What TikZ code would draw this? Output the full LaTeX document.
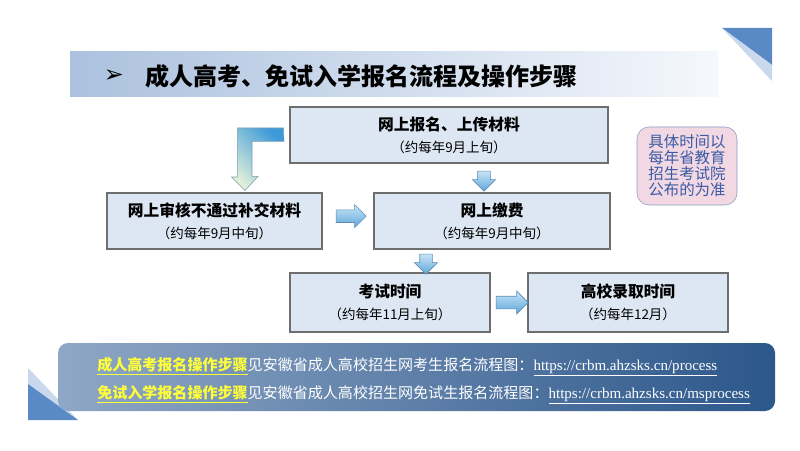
\documentclass[tikz,border=0pt]{standalone}
\usepackage{fontspec}
\setmainfont{Noto Sans CJK SC}
\newfontfamily\urlfont{Liberation Serif}
\newfontfamily\symfont{DejaVu Sans}
\usetikzlibrary{shapes.arrows,calc}
\definecolor{boxfill}{HTML}{DDE7F3}
\definecolor{boxline}{HTML}{6E6E6E}
\definecolor{bandleft}{HTML}{ABC1DE}
\definecolor{bandright}{HTML}{F5F8FC}
\definecolor{tridark}{HTML}{5A8AC6}
\definecolor{trilight}{HTML}{C9D8EC}
\definecolor{bannerleft}{HTML}{8FA7C6}
\definecolor{bannerright}{HTML}{2C578A}
\definecolor{notefill}{HTML}{F2D8E3}
\definecolor{noteline}{HTML}{8A9CC0}
\definecolor{notetext}{HTML}{3A5BA5}
\definecolor{hiyellow}{HTML}{FFFF3A}
\definecolor{arrowline}{HTML}{5B8DB8}
\definecolor{arrowlight}{HTML}{C8E4F6}
\definecolor{arrowdark}{HTML}{5DA7DA}
\definecolor{bentblue}{HTML}{3F9BD8}
\definecolor{bentgreen}{HTML}{E2F0D9}
\definecolor{bentline}{HTML}{7F9DB0}
\newcommand\subsize{\fontsize{9.6}{15}\selectfont}

\begin{document}
\begin{tikzpicture}[
    box/.style={rectangle,draw=boxline,fill=boxfill,line width=0.8pt,align=center,inner sep=0pt,font=\fontsize{11.2}{15.5}\selectfont},
    barrow/.style={single arrow,draw=arrowline,top color=arrowlight,bottom color=arrowdark,thin,inner sep=0.15cm,minimum width=0.56cm,single arrow head extend=0.13cm},
    line/.style={anchor=west,inner sep=0pt,text=white,font=\fontsize{10.7}{13}\selectfont},
    ]
    \useasboundingbox (0,0) rectangle (20,11.25);
    \fill[white] (0,0) rectangle (20,11.25);
    % title band and corner triangles
    \shade[left color=bandleft,right color=bandright] (1.75,8.825) rectangle (17.95,9.95);
    \fill[tridark] (18.05,10.55) -- (19.3,10.55) -- (19.3,9.625) -- cycle;
    \fill[trilight] (18.05,10.55) -- (19.3,9.625) -- (19.3,9.225) -- cycle;
    \fill[trilight] (0.7,2.05) -- (1.95,0.75) -- (0.7,1.65) -- cycle;
    \fill[tridark] (0.7,1.65) -- (1.95,0.75) -- (0.7,0.75) -- cycle;
    \node[inner sep=0pt] (mark) at (2.85,9.35) {\symfont\fontsize{17}{17}\selectfont ➢};
    \node[anchor=west,inner sep=0pt,font=\fontsize{17.1}{20}\selectfont\bfseries] (title) at (3.625,9.35) {成人高考、免试入学报名流程及操作步骤};
    % steps
    \node[box,minimum width=7.95cm,minimum height=1.4cm] (reg) at (11.225,7.875) {\textbf{网上报名、上传材料}\\{\subsize（约每年9月上旬）}};
    \node[box,minimum width=5.375cm,minimum height=1.4cm] (fix) at (5.3625,5.725) {\textbf{网上审核不通过补交材料}\\{\subsize（约每年9月中旬）}};
    \node[box,minimum width=5.9cm,minimum height=1.4cm] (pay) at (12.3,5.725) {\textbf{网上缴费}\\{\subsize（约每年9月中旬）}};
    \node[box,minimum width=5cm,minimum height=1.475cm] (exam) at (9.75,3.6875) {\textbf{考试时间}\\{\subsize（约每年11月上旬）}};
    \node[box,minimum width=5cm,minimum height=1.475cm] (admit) at (15.7,3.6875) {\textbf{高校录取时间}\\{\subsize（约每年12月）}};
    \node[rectangle,rounded corners=0.3cm,draw=noteline,fill=notefill,thin,minimum width=2.5cm,minimum height=1.95cm,align=center,inner sep=0pt,text=notetext,font=\fontsize{11}{11.4}\selectfont] (note) at (17.175,7.1) {具体时间以\\每年省教育\\招生考试院\\公布的为准};
    % arrows
    \coordinate (bendtip) at ($(fix.north)+(0.7625,0.05)$);
    \draw[bentline,thin,top color=bentblue,bottom color=bentgreen,shading angle=-45]
        ($(reg.west)+(-0.15,0.175)$) -- ++(-1.15,0) -- ++(0,-1.225) -- ++(-0.15,0)
        -- (bendtip) -- ++(0.325,0.35) -- ++(-0.15,0) -- ++(0,0.875) -- ++(0.8,0) -- cycle;
    \node[barrow,minimum height=0.5cm,shape border rotate=270] (a1) at ($(pay.north)!.5!(pay.north|-reg.south)+(-0.2,0)$) {};
    \node[barrow,minimum height=0.75cm] (a2) at ($(fix.east)!.5!(pay.west)+(0,0.12)$) {};
    \node[barrow,minimum height=0.5cm,shape border rotate=270] (a3) at ($(exam.north)!.5!(exam.north|-pay.south)+(0.9,0)$) {};
    \node[barrow,minimum height=0.8cm] (a4) at ($(exam.east)!.5!(admit.west)$) {};
    % bottom banner
    \shade[rounded corners=0.25cm,left color=bannerleft,right color=bannerright] (1.45,0.975) rectangle (19.375,2.675);
    \node[line] (line1) at (2.425,2.075) {\textcolor{hiyellow}{\bfseries\underline{成人高考报名操作步骤}}见安徽省成人高校招生网考生报名流程图：\underline{\urlfont https://crbm.ahzsks.cn/process}};
    \node[line] (line2) at (2.425,1.375) {\textcolor{hiyellow}{\bfseries\underline{免试入学报名操作步骤}}见安徽省成人高校招生网免试生报名流程图：\underline{\urlfont https://crbm.ahzsks.cn/msprocess}};
\end{tikzpicture}
\end{document}
